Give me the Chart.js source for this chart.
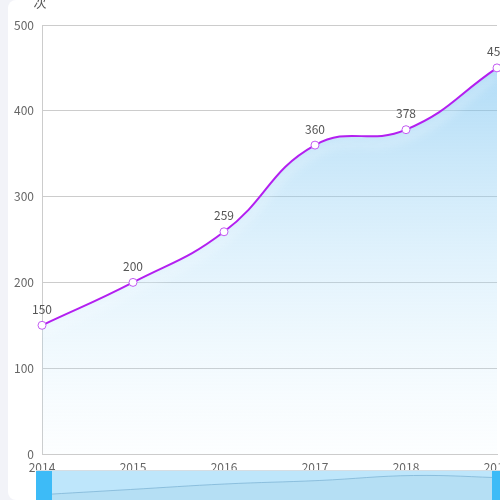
<!DOCTYPE html>
<html>
<head>
<meta charset="utf-8">
<script src="https://cdn.jsdelivr.net/npm/chart.js@4.4.1/dist/chart.umd.min.js"></script>
<style>
  html, body { margin: 0; padding: 0; width: 500px; height: 500px; overflow: hidden; background: #f2f3f8; }
  #card { position: absolute; left: 8px; top: 0; width: 500px; height: 500px; background: #fff; border-radius: 8px; overflow: hidden; }
  #main { position: absolute; left: 0; top: 0; }
  #slider { position: absolute; left: 28px; top: 470px; width: 472px; height: 30px; background: #bee6fb; border-top: 1px solid #d6dde3; box-sizing: border-box; }
  #mini { position: absolute; left: 0; top: 0; }
  .handle { position: absolute; top: 0; width: 16px; height: 30px; background: #3dbbf7; }
</style>
</head>
<body>
<div id="card">
  <canvas id="main" width="500" height="480"></canvas>
  <div id="slider">
    <canvas id="mini" width="472" height="29"></canvas>
    <div class="handle" style="left:0"></div>
    <div class="handle" style="left:456px"></div>
  </div>
</div>
<script>
// values
const years      = ['2014', '2015', '2016', '2017', '2018', '2019'];
const visits     = [150, 200, 259, 360, 378, 450];
const yTicks     = [0, 100, 200, 300, 400, 500];
const miniValues = [5, 10.5, 16, 19.5, 24.5, 22];

const FONT = "'Noto Sans CJK SC', 'Noto Sans', sans-serif";
const LINE = '#b31ff0';

// point labels above each point
const pointLabels = {
  id: 'pointLabels',
  afterDatasetsDraw(chart) {
    const ctx = chart.ctx;
    const meta = chart.getDatasetMeta(1);
    ctx.save();
    ctx.font = '12px ' + FONT;
    ctx.fillStyle = '#555';
    ctx.textAlign = 'center';
    ctx.textBaseline = 'middle';
    meta.data.forEach((pt, i) => {
      ctx.fillText(String(visits[i]), pt.x, pt.y - 16);
    });
    ctx.restore();
  }
};

// axis name on top of the y axis
const axisName = {
  id: 'axisName',
  afterDraw(chart) {
    const ctx = chart.ctx;
    ctx.save();
    ctx.font = '13px ' + FONT;
    ctx.fillStyle = '#555';
    ctx.textAlign = 'center';
    ctx.textBaseline = 'bottom';
    ctx.fillText('次', chart.chartArea.left - 2, 9);
    ctx.restore();
  }
};

// soft white glow under the line only (dataset 0)
const lineGlow = {
  id: 'lineGlow',
  beforeDatasetDraw(chart, args) {
    if (args.index !== 0) return;
    const ctx = chart.ctx;
    ctx.save();
    ctx.shadowColor = 'rgba(255,255,255,0.9)';
    ctx.shadowBlur = 10;
    ctx.shadowOffsetY = 8;
  },
  afterDatasetDraw(chart, args) {
    if (args.index !== 0) return;
    chart.ctx.restore();
  }
};

new Chart(document.getElementById('main'), {
  type: 'line',
  data: {
    labels: years,
    datasets: [{
      data: visits,
      borderColor: LINE,
      borderWidth: 2,
      tension: 0.45,
      fill: 'origin',
      clip: false,
      pointRadius: 0,
      order: 1,
      backgroundColor: (c) => {
        const area = c.chart.chartArea;
        if (!area) return 'rgba(150,210,245,0.3)';
        const g = c.chart.ctx.createLinearGradient(0, area.top, 0, area.bottom);
        g.addColorStop(0, 'rgba(100,185,238,0.6)');
        g.addColorStop(1, 'rgba(200,235,252,0.05)');
        return g;
      }
    }, {
      data: visits,
      showLine: false,
      fill: false,
      clip: false,
      order: 0,
      pointRadius: 4,
      pointHoverRadius: 4,
      pointBackgroundColor: '#fff',
      pointBorderColor: '#c25cf2',
      pointBorderWidth: 1
    }]
  },
  options: {
    responsive: false,
    animation: false,
    events: [],
    layout: { padding: { top: 25, right: 11, left: 0, bottom: 0 } },
    plugins: { legend: { display: false }, tooltip: { enabled: false } },
    scales: {
      x: {
        offset: false,
        grid: { display: false, drawTicks: false },
        border: { display: true, color: '#cccccc' },
        ticks: { color: '#666', font: { family: FONT, size: 12 }, padding: 6, maxRotation: 0, autoSkip: false },
        afterFit(s) { s.height = 26; s.paddingLeft = 0; s.paddingRight = 0; }
      },
      y: {
        min: 0,
        max: 500,
        afterBuildTicks(s) { s.ticks = yTicks.map(v => ({ value: v })); },
        grid: { color: '#cccccc', drawTicks: false },
        border: { display: true, color: '#cccccc' },
        ticks: { color: '#666', font: { family: FONT, size: 12 }, padding: 8 },
        afterFit(s) { s.width = 34; s.paddingTop = 0; s.paddingBottom = 0; }
      }
    }
  },
  plugins: [pointLabels, axisName, lineGlow]
});

// data-zoom slider preview
new Chart(document.getElementById('mini'), {
  type: 'line',
  data: {
    labels: years,
    datasets: [{
      data: miniValues,
      borderColor: 'rgba(120,175,210,0.7)',
      borderWidth: 1,
      backgroundColor: 'rgba(170,215,235,0.45)',
      fill: 'origin',
      tension: 0.4,
      pointRadius: 0
    }]
  },
  options: {
    responsive: false,
    animation: false,
    events: [],
    layout: { padding: 0 },
    plugins: { legend: { display: false }, tooltip: { enabled: false } },
    scales: {
      x: { display: false, offset: false },
      y: { display: false, min: 0, max: 29 }
    }
  }
});
</script>
</body>
</html>
